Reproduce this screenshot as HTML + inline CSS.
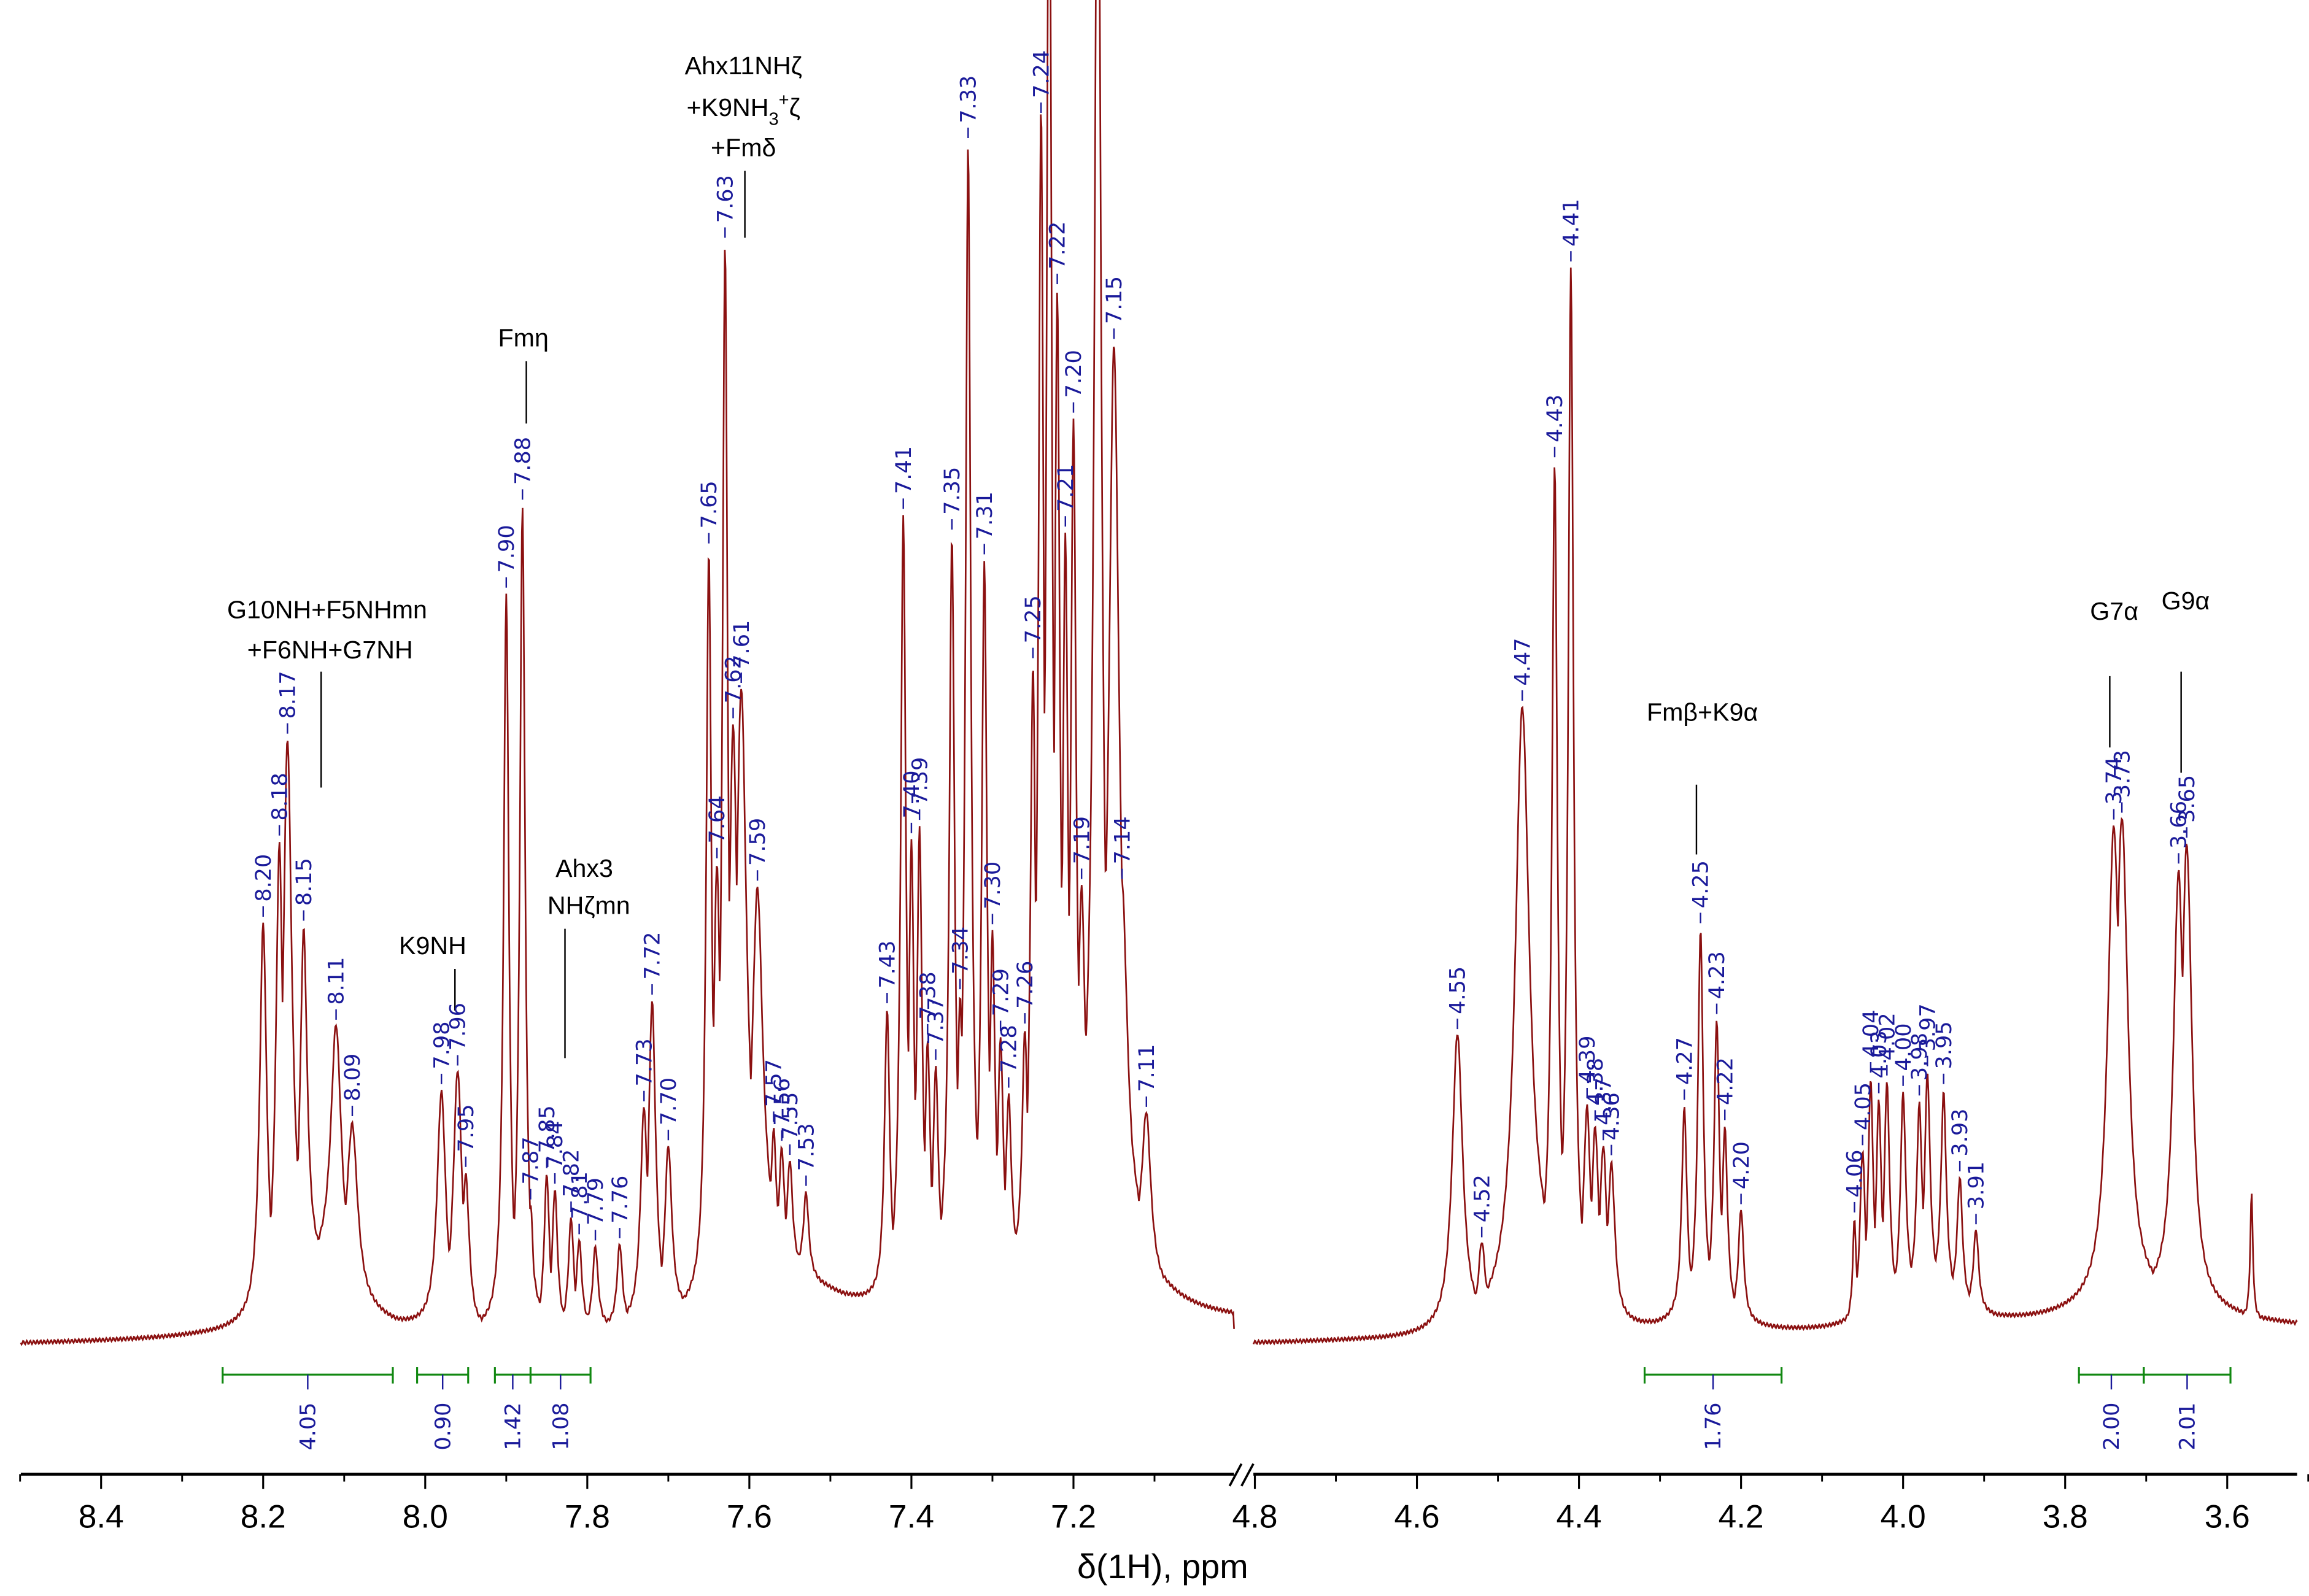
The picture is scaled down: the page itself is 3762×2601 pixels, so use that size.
<!DOCTYPE html>
<html><head><meta charset="utf-8"><style>
html,body{margin:0;padding:0;background:#fff;}
svg{display:block;}
</style></head><body>
<svg id="chart" xmlns="http://www.w3.org/2000/svg" width="3762" height="2601" viewBox="0 0 1553 1074" preserveAspectRatio="none" font-family="'Liberation Sans', 'DejaVu Sans', sans-serif">
<rect width="1553" height="1074" fill="#fff"/>
<g id="annot" font-size="17" fill="#000" text-anchor="middle"></g>
<g id="integrals"></g>
<g id="spec"></g>
<g id="labels" font-size="14.5" fill="#1a1a9a" font-family="'DejaVu Sans', sans-serif"></g>
<g id="axis"></g>
</svg>
<script>
// ---- data ----
const peakPpm = [8.20,8.18,8.17,8.15,8.11,8.09,7.98,7.96,7.95,7.90,7.88,7.87,7.85,7.84,7.82,7.81,7.79,7.76,7.73,7.72,7.70,7.65,7.64,7.63,7.62,7.61,7.59,7.57,7.56,7.55,7.53,7.43,7.41,7.40,7.39,7.38,7.37,7.35,7.34,7.33,7.31,7.30,7.29,7.28,7.26,7.25,7.24,7.23,7.22,7.21,7.20,7.19,7.17,7.15,7.14,7.11,
4.55,4.52,4.47,4.43,4.41,4.39,4.38,4.37,4.36,4.27,4.25,4.23,4.22,4.20,4.06,4.05,4.04,4.03,4.02,4.00,3.98,3.97,3.95,3.93,3.91,3.74,3.73,3.66,3.65,3.57];
const peakHeight = [265,310,375,235,170,115,160,175,105,497,555,85,105,95,75,60,55,55,145,215,115,500,285,695,365,385,245,85,75,70,55,195,525,305,310,165,145,497,185,755,475,225,155,115,155,395,765,1000,625,455,530,215,1000,585,225,105,
200,55,395,550,690,135,125,115,105,140,255,195,125,75,70,115,160,145,155,140,125,145,135,85,55,320,325,290,310,85];
const peakWidth = [0.004,0.004,0.005,0.004,0.006,0.006,0.005,0.005,0.004,0.003,0.003,0.003,0.003,0.003,0.003,0.003,0.003,0.003,0.004,0.004,0.004,0.003,0.004,0.003,0.005,0.006,0.006,0.003,0.003,0.003,0.003,0.003,0.003,0.003,0.003,0.003,0.003,0.003,0.003,0.003,0.003,0.003,0.003,0.003,0.003,0.003,0.003,0.003,0.003,0.003,0.003,0.004,0.004,0.006,0.006,0.005,
0.006,0.004,0.008,0.003,0.003,0.004,0.004,0.004,0.004,0.003,0.003,0.003,0.003,0.003,0.002,0.003,0.003,0.003,0.003,0.003,0.003,0.003,0.003,0.003,0.003,0.007,0.007,0.006,0.006,0.0015];
const unlabeled = [7.23,7.17,3.57];
const humpPpm = [8.13,7.60,7.55,7.33,7.20,7.14,4.44,4.24,3.97,3.70];
const humpHeight = [80,60,40,50,110,70,70,30,50,40];
const humpWidth = [0.05,0.05,0.06,0.08,0.05,0.03,0.05,0.04,0.05,0.1];
const integralFrom = [8.25,8.01,7.914,7.87,4.319,3.783,3.703];
const integralTo = [8.04,7.947,7.87,7.796,4.150,3.703,3.596];
const integralVal = ["4.05","0.90","1.42","1.08","1.76","2.00","2.01"];
const leftTicks = [8.4,8.2,8.0,7.8,7.6,7.4,7.2];
const rightTicks = [4.8,4.6,4.4,4.2,4.0,3.8,3.6];

// ---- axis functions ----
const PX = 545, BASE = 905, WSCALE = 1.3;
function xLeft(p){return 68+(8.4-p)*PX;}
function xRight(p){return 953+(4.6-p)*PX;}
function xOf(p){return p>6?xLeft(p):xRight(p);}
const NS='http://www.w3.org/2000/svg';
function el(tag,attrs,parent){const e=document.createElementNS(NS,tag);for(const k in attrs)e.setAttribute(k,attrs[k]);parent.appendChild(e);return e;}

function intensity(p){
  let m=0,s=0;
  for(let i=0;i<peakPpm.length;i++){const d=(p-peakPpm[i])/(peakWidth[i]*WSCALE);const v=peakHeight[i]/(1+d*d);if(v>m)m=v;}
  for(let i=0;i<humpPpm.length;i++){const d=(p-humpPpm[i])/humpWidth[i];s+=humpHeight[i]/(1+d*d);}
  return m+s*0.6;
}
function baseline(x){return BASE+ (x<830? (x-14)/816*-12 : (x-843)/702*-8) + Math.sin(x*2.7)*1.2;}
const spec=document.getElementById('spec');
function segment(x0,x1,inv){
  let d='';
  for(let x=x0;x<=x1;x+=0.5){const p=inv(x);const y=baseline(x)-intensity(p);d+=(d?'L':'M')+x.toFixed(1)+','+y.toFixed(1);}
  return d;
}
const sl=el('path',{d:segment(14,830,x=>8.4-(x-68)/PX),fill:'none',stroke:'#8b1010','stroke-width':1.1},spec);


const sr=el('path',{d:segment(843,1545,x=>4.6-(x-953)/PX),fill:'none',stroke:'#8b1010','stroke-width':1.1},spec);



// ---- peak labels ----
const lab=document.getElementById('labels');
for(let i=0;i<peakPpm.length;i++){
  if(unlabeled.indexOf(peakPpm[i])>=0)continue;
  const x=xOf(peakPpm[i]);
  const top=Math.max(baseline(x)-intensity(peakPpm[i]),80);
  const t=el('line',{x1:x,x2:x,y1:top-4,y2:top-11,stroke:'#1a1a9a','stroke-width':1},lab);
  
  
  const tx=el('text',{x:0,y:0,transform:`translate(${x+5},${top-14}) rotate(-90)`},lab);
  tx.textContent=peakPpm[i].toFixed(2);
  
  
}

// ---- integrals ----
const ig=document.getElementById('integrals');
for(let i=0;i<integralVal.length;i++){
  const a=xOf(integralFrom[i]),b=xOf(integralTo[i]),m=(a+b)/2;
  const g=el('g',{},ig);
  
  
  el('line',{x1:a,x2:b,y1:925,y2:925,stroke:'#118811','stroke-width':1.3},g);
  el('line',{x1:a,x2:a,y1:920,y2:931,stroke:'#118811','stroke-width':1.3},g);
  el('line',{x1:b,x2:b,y1:920,y2:931,stroke:'#118811','stroke-width':1.3},g);
  el('line',{x1:m,x2:m,y1:925,y2:935,stroke:'#1a1a9a','stroke-width':1},g);
  const t=el('text',{transform:`translate(${m+5},${976}) rotate(-90)`,'font-size':14.5,fill:'#1a1a9a','font-family':"'DejaVu Sans', sans-serif"},g);
  t.textContent=integralVal[i];
}

// ---- axis ----
const ax=document.getElementById('axis');
el('line',{x1:14,x2:830,y1:992,y2:992,stroke:'#000','stroke-width':2},ax);
el('line',{x1:843,x2:1545,y1:992,y2:992,stroke:'#000','stroke-width':2},ax);
el('line',{x1:827,x2:835,y1:1000,y2:985,stroke:'#000','stroke-width':1.5},ax);
el('line',{x1:835,x2:843,y1:1000,y2:985,stroke:'#000','stroke-width':1.5},ax);
function ticks(list,fx,minLo,minHi){
  list.forEach(p=>{const x=fx(p);el('line',{x1:x,x2:x,y1:992,y2:1002,stroke:'#000','stroke-width':1.3},ax);
    const t=el('text',{x:x,y:1028,'text-anchor':'middle','font-size':22,fill:'#000'},ax);t.textContent=p.toFixed(1);
    
    });
  for(let p=minLo;p<=minHi+1e-9;p+=0.2){const x=fx(p);el('line',{x1:x,x2:x,y1:992,y2:997,stroke:'#000','stroke-width':1.2},ax);}
}
ticks(leftTicks,xLeft,7.1,8.5);
ticks(rightTicks,xRight,3.5,4.7);
const xt=el('text',{x:782,y:1062,'text-anchor':'middle','font-size':23,fill:'#000'},ax);
xt.textContent='δ(1H), ppm';



// ---- annotations ----
const an=document.getElementById('annot');
an.innerHTML=`
<g><text x="220" y="416">G10NH+F5NHmn</text><text x="222" y="443">+F6NH+G7NH</text><line x1="216" y1="452" x2="216" y2="530" stroke="#000"/></g>
<g><text x="291" y="642">K9NH</text><line x1="306" y1="652" x2="306" y2="680" stroke="#000"/></g>
<g><text x="352" y="233">Fmη</text><line x1="354" y1="243" x2="354" y2="285" stroke="#000"/></g>
<g><text x="393" y="590">Ahx3</text><text x="396" y="615">NHζmn</text><line x1="380" y1="625" x2="380" y2="712" stroke="#000"/></g>
<g><text x="500" y="50">Ahx11NHζ</text><text x="500" y="78">+K9NH<tspan font-size="12" dy="6">3</tspan><tspan font-size="12" dy="-13">+</tspan><tspan dy="7">ζ</tspan></text><text x="500" y="105">+Fmδ</text><line x1="501" y1="115" x2="501" y2="160" stroke="#000"/></g>
<g><text x="1145" y="485">Fmβ+K9α</text><line x1="1141" y1="528" x2="1141" y2="575" stroke="#000"/></g>
<g><text x="1422" y="417">G7α</text><line x1="1419" y1="455" x2="1419" y2="503" stroke="#000"/></g>
<g><text x="1470" y="410">G9α</text><line x1="1467" y1="452" x2="1467" y2="520" stroke="#000"/></g>`;
</script>
</body></html>
